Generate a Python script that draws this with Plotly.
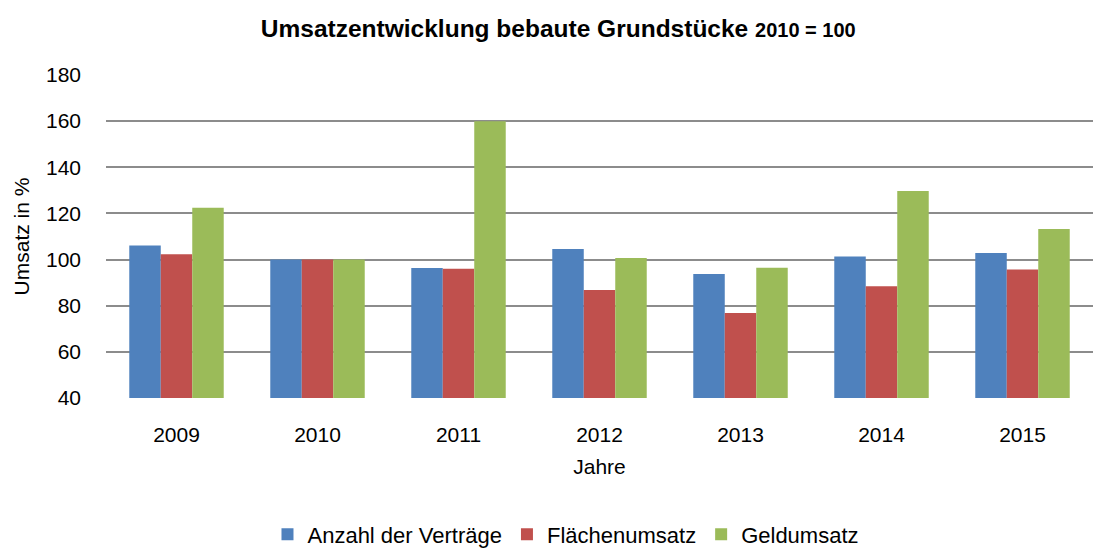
import plotly.graph_objects as go

years = ["2009", "2010", "2011", "2012", "2013", "2014", "2015"]
anzahl = [106.1, 100.0, 96.4, 104.6, 93.8, 101.3, 102.8]
flaeche = [102.3, 100.0, 96.0, 86.8, 76.8, 88.4, 95.7]
geld = [122.5, 100.0, 160.0, 100.7, 96.5, 129.7, 113.3]
series_names = ["Anzahl der Verträge", "Flächenumsatz", "Geldumsatz"]
colors = ["#4F81BD", "#C0504D", "#9BBB59"]

FONT = "Liberation Sans Narrow, Arial Narrow, Liberation Sans, Arial, sans-serif"

fig = go.Figure()
for name, vals, col in zip(series_names, [anzahl, flaeche, geld], colors):
    fig.add_trace(go.Bar(x=years, y=vals, name=name,
                         marker=dict(color=col, line=dict(width=0))))

fig.update_layout(
    width=1099, height=551,
    margin=dict(l=106, r=6, t=75, b=153, autoexpand=False),
    paper_bgcolor="white", plot_bgcolor="white",
    font=dict(family=FONT, size=21, color="#000"),
    title=dict(text="<b>Umsatzentwicklung bebaute Grundstücke <span style='font-size:20px'>2010 = 100</span></b>",
               x=0.508, xanchor="center", y=0.949, yanchor="middle",
               font=dict(family=FONT, size=24.5, color="#000")),
    barmode="group", bargap=0.33, bargroupgap=0,
    legend=dict(orientation="h", x=0.515, xref="container", xanchor="center",
                y=0.03, yref="container", yanchor="middle",
                font=dict(family=FONT, size=22), itemwidth=30, traceorder="normal"),
    showlegend=True,
)
fig.update_yaxes(range=[40, 180], dtick=20, showgrid=True, gridcolor="#8C8C8C", gridwidth=1.5,
                 zeroline=False, showline=False, ticks="", ticklabelstandoff=24, automargin=False,
                 title=dict(text="Umsatz in %", standoff=10, font=dict(family=FONT, size=21)),
                 tickfont=dict(family=FONT, size=21))
fig.update_xaxes(showline=False, ticks="", tickfont=dict(family=FONT, size=21), automargin=False,
                 ticklabelstandoff=22,
                 title=dict(text="Jahre", standoff=14, font=dict(family=FONT, size=21)))

fig.write_html("out.html", config={"displayModeBar": False},
               post_script="document.body.style.margin='0';document.body.style.overflow='hidden';")
